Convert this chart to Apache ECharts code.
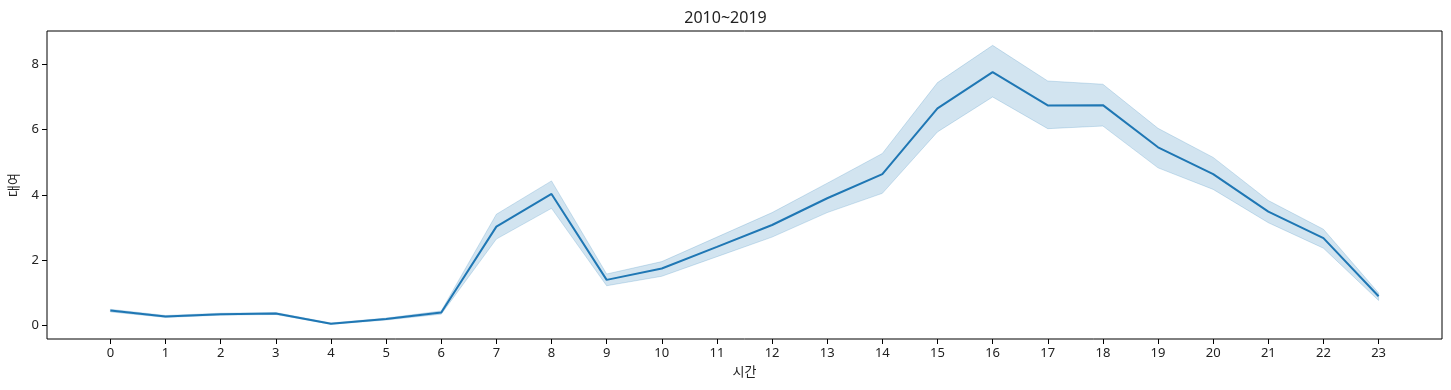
<!DOCTYPE html>
<html><head><meta charset="utf-8">
<script src="https://cdn.jsdelivr.net/npm/echarts@6/dist/echarts.min.js"></script>
<style>html,body{margin:0;padding:0;background:#fff}#c{width:1451px;height:390px}</style>
</head><body><div id="c"></div>
<script>
const hours = [0,1,2,3,4,5,6,7,8,9,10,11,12,13,14,15,16,17,18,19,20,21,22,23];
const meanVals = [0.46,0.28,0.35,0.37,0.06,0.20,0.40,3.03,4.03,1.40,1.75,2.41,3.08,3.90,4.64,6.65,7.76,6.74,6.75,5.46,4.64,3.49,2.68,0.90];
const upperVals = [0.50,0.31,0.38,0.40,0.08,0.23,0.45,3.41,4.43,1.58,1.96,2.71,3.46,4.36,5.27,7.44,8.58,7.49,7.39,6.04,5.15,3.83,2.95,1.00];
const lowerVals = [0.42,0.25,0.32,0.34,0.04,0.17,0.35,2.65,3.59,1.22,1.51,2.11,2.71,3.46,4.05,5.93,7.00,6.03,6.11,4.83,4.17,3.15,2.37,0.77];
const yTicks = [0,2,4,6,8];
const titleText = '2010~2019';
const xName = '시간';
const yName = '대여';

const FONT = '"Noto Sans","Noto Sans CJK KR",sans-serif';
const chart = echarts.init(document.getElementById('c'), null, {renderer:'canvas'});
const bandPoly = hours.map((h,i)=>[h, upperVals[i]]).concat(hours.slice().reverse().map((h,j)=>{const i=hours.length-1-j;return [h, lowerVals[i]];}));
chart.setOption({
  animation:false,
  title:{text:titleText,left:'center',top:5,textStyle:{fontFamily:FONT,fontSize:16,fontWeight:'normal',color:'#222'}},
  grid:{left:47,right:9,top:31,bottom:51,show:true,borderColor:'#000',borderWidth:1,backgroundColor:'transparent',containLabel:false,outerBoundsMode:'none'},
  xAxis:{type:'value',min:-1.15,max:24.15,
    name:xName,nameLocation:'middle',nameGap:27,nameTextStyle:{fontFamily:FONT,fontSize:13,color:'#222'},
    axisLine:{show:false,onZero:false},splitLine:{show:false},
    axisTick:{show:true,inside:false,length:5,lineStyle:{color:'#000'},customValues:hours},
    axisLabel:{customValues:hours,fontFamily:FONT,fontSize:13,color:'#222',margin:8}},
  yAxis:{type:'value',min:-0.41,max:9.02,
    name:yName,nameLocation:'middle',nameGap:23,nameRotate:90,nameTextStyle:{fontFamily:FONT,fontSize:13,color:'#222'},
    axisLine:{show:false,onZero:false},splitLine:{show:false},
    axisTick:{show:true,inside:false,length:5,lineStyle:{color:'#000'},customValues:yTicks},
    axisLabel:{customValues:yTicks,fontFamily:FONT,fontSize:13,color:'#222',margin:8}},
  series:[
    {type:'custom',data:[0],silent:true,z:1,
     renderItem:function(params,api){
       const pts = bandPoly.map(p=>api.coord(p));
       return {type:'polygon',shape:{points:pts},style:{fill:'rgba(31,119,180,0.2)',stroke:'rgba(31,119,180,0.2)',lineWidth:1}};
     }},
    {type:'line',data:hours.map((h,i)=>[h,meanVals[i]]),showSymbol:false,symbol:'none',z:2,
     lineStyle:{color:'#1f77b4',width:2}}
  ]
});
</script></body></html>
